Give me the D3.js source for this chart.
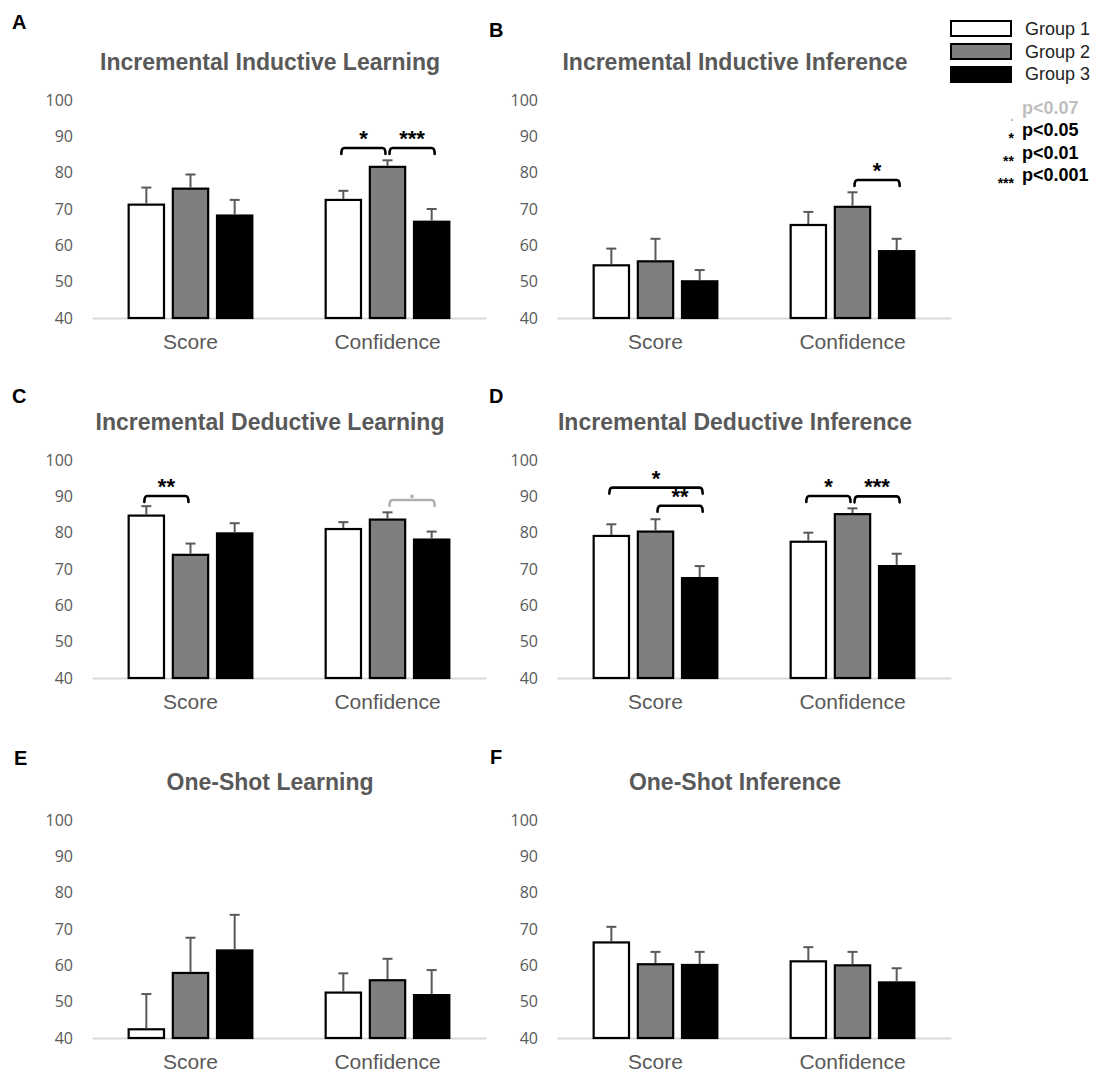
<!DOCTYPE html>
<html>
<head>
<meta charset="utf-8">
<script src="https://cdnjs.cloudflare.com/ajax/libs/d3/7.8.5/d3.min.js"></script>
<style>
  body { margin: 0; background: #fff; }
  svg { display: block; }
</style>
</head>
<body>
<div id="chart"></div>
<script>
'use strict';

// ---- data ----
var panelLetters = ["A", "B", "C", "D", "E", "F"];
var panelTitles = [
    "Incremental Inductive Learning",
    "Incremental Inductive Inference",
    "Incremental Deductive Learning",
    "Incremental Deductive Inference",
    "One-Shot Learning",
    "One-Shot Inference"
];
var categories = ["Score", "Confidence"];
var groups = ["Group 1", "Group 2", "Group 3"];
var yTicks = [40, 50, 60, 70, 80, 90, 100];

// one row per panel, one value per group
var scoreMeans = [
    [71.2, 75.6, 68.2],
    [54.5, 55.6, 50.1],
    [84.7, 73.9, 79.8],
    [79.1, 80.3, 67.5],
    [42.4, 57.9, 64.1],
    [66.3, 60.3, 60.1]
];
var scoreErrors = [
    [4.7, 3.9, 4.3],
    [4.6, 6.2, 3.1],
    [2.6, 3.1, 2.8],
    [3.2, 3.4, 3.3],
    [9.7, 9.7, 9.8],
    [4.3, 3.4, 3.6]
];
var confMeans = [
    [72.5, 81.6, 66.5],
    [65.6, 70.6, 58.4],
    [81.0, 83.6, 78.1],
    [77.5, 85.1, 70.8],
    [52.5, 55.9, 51.8],
    [61.1, 60.0, 55.3]
];
var confErrors = [
    [2.5, 1.8, 3.5],
    [3.6, 4.0, 3.4],
    [1.9, 2.0, 2.2],
    [2.5, 1.6, 3.4],
    [5.3, 5.9, 6.9],
    [3.9, 3.7, 3.9]
];

// significance brackets: panel index, category, from group, to group, top value, label
var brackets = [
    {panel: 0, cat: "Confidence", from: 0, to: 1, top: 86.8, label: "*"},
    {panel: 0, cat: "Confidence", from: 1, to: 2, top: 86.8, label: "***"},
    {panel: 1, cat: "Confidence", from: 1, to: 2, top: 78.0, label: "*"},
    {panel: 2, cat: "Score", from: 0, to: 1, top: 90.1, label: "**"},
    {panel: 2, cat: "Confidence", from: 1, to: 2, top: 89.0, label: "."},
    {panel: 3, cat: "Score", from: 0, to: 2, top: 92.4, label: "*"},
    {panel: 3, cat: "Score", from: 1, to: 2, top: 87.4, label: "**"},
    {panel: 3, cat: "Confidence", from: 0, to: 1, top: 90.1, label: "*"},
    {panel: 3, cat: "Confidence", from: 1, to: 2, top: 90.0, label: "***"}
];

var sigSymbols = [".", "*", "**", "***"];
var sigLabels = ["p<0.07", "p<0.05", "p<0.01", "p<0.001"];

// ---- layout ----
var scope = {};
scope.width = 1098;
scope.height = 1072;
scope.colX = [0, 465];
scope.rowY = [0, 360, 720];
scope.letterPos = [[12, 29], [489, 37], [12, 403], [489, 403], [14, 765], [490, 764]];
scope.fills = ["#ffffff", "#7f7f7f", "#000000"];
scope.textGray = "#595959";

scope.appendSvg = function(div)
{
    return d3.select(div).append("svg")
        .attr("width", scope.width)
        .attr("height", scope.height)
        .style("background", "#fff");
};

scope.bracketPath = function(x1, x2, yt)
{
    var leg = 6, r = 3;
    return "M" + x1 + "," + (yt + leg) +
        " Q" + x1 + "," + yt + " " + (x1 + r) + "," + yt +
        " L" + (x2 - r) + "," + yt +
        " Q" + x2 + "," + yt + " " + x2 + "," + (yt + leg);
};

scope.drawPanel = function(svg, i)
{
    var ox = scope.colX[i % 2];
    var oy = scope.rowY[Math.floor(i / 2)];
    var g = svg.append("g").attr("transform", "translate(" + ox + "," + oy + ")");

    var y = d3.scaleLinear().domain([40, 100]).range([318, 100]);
    var x0 = d3.scaleBand().domain(categories).range([92, 486]);
    var x1 = d3.scaleBand().domain(groups).range([0, x0.bandwidth()])
        .paddingInner(0.2).paddingOuter(0.83);

    // title
    g.append("text")
        .attr("x", 270).attr("y", 70)
        .attr("text-anchor", "middle")
        .style("font-family", "'Liberation Sans', Arial, sans-serif")
        .style("font-weight", "bold")
        .style("font-size", "23px")
        .style("fill", scope.textGray)
        .text(panelTitles[i]);

    // y tick labels
    var yAxis = g.append("g")
        .attr("transform", "translate(76,0)")
        .call(d3.axisLeft(y).tickValues(yTicks).tickSize(0).tickPadding(3));
    yAxis.select(".domain").remove();
    yAxis.selectAll("text")
        .style("font-family", "'Open Sans', sans-serif")
        .style("font-size", "16px")
        .style("fill", scope.textGray);

    // x axis
    var xAxis = g.append("g")
        .attr("transform", "translate(0," + y(40) + ")")
        .call(d3.axisBottom(x0).tickSize(0).tickSizeOuter(0).tickPadding(16));
    xAxis.select(".domain").attr("stroke", "#d9d9d9").attr("stroke-width", 2);
    xAxis.selectAll("text")
        .style("font-family", "'Liberation Sans', Arial, sans-serif")
        .style("font-size", "21px")
        .style("fill", scope.textGray);

    var rows = [];
    categories.forEach(function(c, ci) {
        groups.forEach(function(gr, j) {
            rows.push({
                cat: c, group: gr, j: j,
                mean: ci === 0 ? scoreMeans[i][j] : confMeans[i][j],
                err: ci === 0 ? scoreErrors[i][j] : confErrors[i][j]
            });
        });
    });

    g.selectAll(".bar").data(rows).enter().append("rect")
        .attr("class", "bar")
        .attr("x", function(d) { return x0(d.cat) + x1(d.group); })
        .attr("y", function(d) { return y(d.mean); })
        .attr("width", x1.bandwidth())
        .attr("height", function(d) { return y(40) - y(d.mean); })
        .attr("fill", function(d) { return scope.fills[d.j]; })
        .attr("stroke", "#000")
        .attr("stroke-width", 2.2);

    var eb = g.selectAll(".err").data(rows).enter().append("g").attr("class", "err")
        .attr("stroke", scope.textGray).attr("stroke-width", 2);
    eb.append("line")
        .attr("x1", function(d) { return x0(d.cat) + x1(d.group) + x1.bandwidth() / 2; })
        .attr("x2", function(d) { return x0(d.cat) + x1(d.group) + x1.bandwidth() / 2; })
        .attr("y1", function(d) { return y(d.mean) - 1; })
        .attr("y2", function(d) { return y(d.mean + d.err); });
    eb.append("line")
        .attr("x1", function(d) { return x0(d.cat) + x1(d.group) + x1.bandwidth() / 2 - 5; })
        .attr("x2", function(d) { return x0(d.cat) + x1(d.group) + x1.bandwidth() / 2 + 5; })
        .attr("y1", function(d) { return y(d.mean + d.err); })
        .attr("y2", function(d) { return y(d.mean + d.err); });

    // significance brackets
    var bs = brackets.filter(function(b) { return b.panel === i; });
    bs.forEach(function(b) {
        var cx = function(j) { return x0(b.cat) + x1(groups[j]) + x1.bandwidth() / 2; };
        var xa = cx(b.from) + (b.from === 1 ? 2 : -2);
        var xb = cx(b.to) + (b.to === 1 ? -2 : 3);
        var col = b.label === "." ? "#b0b0b0" : "#000";
        g.append("path")
            .attr("d", scope.bracketPath(xa, xb, y(b.top)))
            .attr("fill", "none")
            .attr("stroke", col)
            .attr("stroke-width", 2.6)
            .attr("stroke-linecap", "round");
        g.append("text")
            .attr("x", (xa + xb) / 2)
            .attr("y", y(b.top) - 2)
            .attr("text-anchor", "middle")
            .style("font-family", "'Liberation Sans', Arial, sans-serif")
            .style("font-weight", "bold")
            .style("font-size", "22px")
            .style("fill", col)
            .text(b.label);
    });

    // panel letter
    svg.append("text")
        .attr("x", scope.letterPos[i][0]).attr("y", scope.letterPos[i][1])
        .style("font-family", "'Liberation Sans', Arial, sans-serif")
        .style("font-weight", "bold")
        .style("font-size", "20px")
        .style("fill", "#000")
        .text(panelLetters[i]);
};

scope.drawLegend = function(svg)
{
    var lg = svg.append("g");
    groups.forEach(function(gr, j) {
        lg.append("rect")
            .attr("x", 951).attr("y", 21 + j * 23)
            .attr("width", 60).attr("height", 15)
            .attr("fill", scope.fills[j])
            .attr("stroke", "#000").attr("stroke-width", 2);
        lg.append("text")
            .attr("x", 1025).attr("y", 35 + j * 22.5)
            .style("font-family", "'Liberation Sans', Arial, sans-serif")
            .style("font-size", "18px")
            .style("fill", "#222")
            .text(gr);
    });
    sigLabels.forEach(function(lab, k) {
        var col = k === 0 ? "#bfbfbf" : "#000";
        var base = 113.5 + k * 22.5;
        lg.append("text")
            .attr("x", 1014).attr("y", base + 7)
            .attr("text-anchor", "end")
            .style("font-family", "'Liberation Sans', Arial, sans-serif")
            .style("font-weight", "bold")
            .style("font-size", "14px")
            .style("fill", col)
            .text(sigSymbols[k]);
        lg.append("text")
            .attr("x", 1022).attr("y", base)
            .style("font-family", "'Liberation Sans', Arial, sans-serif")
            .style("font-weight", "bold")
            .style("font-size", "18px")
            .style("fill", col)
            .text(lab);
    });
};

var svg = scope.appendSvg("#chart");
panelTitles.forEach(function(t, i) { scope.drawPanel(svg, i); });
scope.drawLegend(svg);
</script>
</body>
</html>
